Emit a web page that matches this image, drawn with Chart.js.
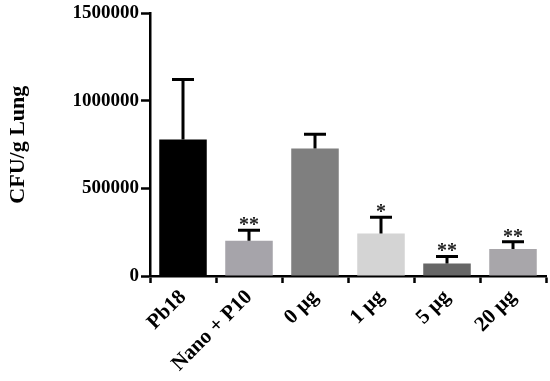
<!DOCTYPE html>
<html>
<head>
<meta charset="utf-8">
<script src="https://cdn.jsdelivr.net/npm/chart.js@4/dist/chart.umd.min.js"></script>
<style>
  html, body { margin: 0; padding: 0; background: #fff; }
  #wrap { width: 550px; height: 381px; position: relative; }
</style>
</head>
<body>
<div id="wrap"><canvas id="cfuChart"></canvas></div>
<script>
// data
const groups = ['Pb18', 'Nano + P10', '0 \u03bcg', '1 \u03bcg', '5 \u03bcg', '20 \u03bcg'];
const cfuMean = [780000, 201000, 728000, 243000, 72000, 154000];
const cfuSem = [342000, 61000, 82000, 92000, 40000, 42000];
const stars = ['', '**', '', '*', '**', '**'];
const barColors = ['#000000', '#a6a4aa', '#7f7f7f', '#d4d4d4', '#666666', '#a8a6aa'];
const yTicks = [0, 500000, 1000000, 1500000];

const serif = '"Liberation Serif", "Times New Roman", serif';

// error bars (upward only) + significance stars
const errorBars = {
    id: 'errorBars',
    afterDatasetsDraw(chart) {
        const ctx = chart.ctx;
        const meta = chart.getDatasetMeta(0);
        const y = chart.scales.y;
        ctx.save();
        ctx.strokeStyle = '#000';
        ctx.fillStyle = '#222';
        ctx.lineWidth = 3;
        meta.data.forEach((bar, i) => {
            const top = y.getPixelForValue(cfuMean[i] + cfuSem[i]);
            const base = y.getPixelForValue(cfuMean[i]);
            ctx.beginPath();
            ctx.moveTo(bar.x, base);
            ctx.lineTo(bar.x, top);
            ctx.moveTo(bar.x - 11, top);
            ctx.lineTo(bar.x + 11, top);
            ctx.stroke();
            if (stars[i]) {
                ctx.font = 'bold 20px ' + serif;
                ctx.textAlign = 'center';
                ctx.textBaseline = 'alphabetic';
                ctx.fillText(stars[i], bar.x, top + 1);
            }
        });
        ctx.restore();
    }
};

new Chart(document.getElementById('cfuChart'), {
    type: 'bar',
    data: {
        labels: groups,
        datasets: [{
            data: cfuMean,
            backgroundColor: barColors,
            borderWidth: 0,
            categoryPercentage: 0.72,
            barPercentage: 1.0
        }]
    },
    options: {
        responsive: true,
        maintainAspectRatio: false,
        animation: false,
        layout: { padding: { top: 13, right: 4, left: 0, bottom: 0 } },
        plugins: {
            legend: { display: false },
            tooltip: { enabled: false }
        },
        scales: {
            x: {
                grid: {
                    display: true,
                    drawOnChartArea: false,
                    drawTicks: true,
                    tickLength: 7,
                    tickWidth: 2.5,
                    tickColor: '#000'
                },
                border: { display: true, color: '#000', width: 2.5 },
                ticks: {
                    color: '#000',
                    font: { family: serif, size: 21, weight: 'bold' },
                    minRotation: 45,
                    maxRotation: 45,
                    padding: 2
                },
                afterFit(scale) { scale.height = 105; }
            },
            y: {
                min: 0,
                max: 1500000,
                afterBuildTicks(scale) { scale.ticks = yTicks.map(v => ({ value: v })); },
                grid: {
                    display: true,
                    drawOnChartArea: false,
                    drawTicks: true,
                    tickLength: 9,
                    tickWidth: 2.5,
                    tickColor: '#000'
                },
                border: { display: true, color: '#000', width: 2.5 },
                ticks: {
                    color: '#000',
                    font: { family: serif, size: 19, weight: 'bold' },
                    padding: 2,
                    callback: v => String(v)
                },
                title: {
                    display: true,
                    text: 'CFU/g Lung',
                    color: '#000',
                    font: { family: serif, size: 22, weight: 'bold' },
                    padding: { top: 5, bottom: 20 }
                },
                afterFit(scale) { scale.width = 150; }
            }
        }
    },
    plugins: [errorBars]
});
</script>
</body>
</html>
